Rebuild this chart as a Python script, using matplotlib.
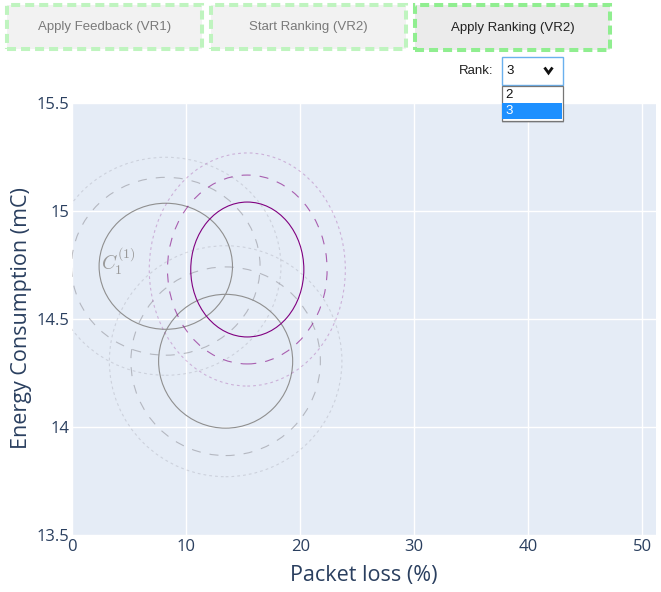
import matplotlib
matplotlib.use("Agg")
import matplotlib.pyplot as plt
from matplotlib.patches import Ellipse, Rectangle
from matplotlib.lines import Line2D

plt.rcParams['lines.scale_dashes'] = False
plt.rcParams['mathtext.fontset'] = 'cm'

# ---- data ----
center_x = [8.2, 13.45, 15.35]
center_y = [14.745, 14.305, 14.73]
rx_solid = [5.85, 5.88, 4.96]
ry_solid = [0.292, 0.310, 0.3125]
rx_dashed = [8.27, 8.31, 7.0]
ry_dashed = [0.412, 0.437, 0.4375]
rx_dotted = [10.1, 10.2, 8.6]
ry_dotted = [0.505, 0.535, 0.54]
highlight = [False, False, True]
label_text = r'$C_1^{(1)}$'
label_pos = (4.0, 14.77)

x_ticks = [0, 10, 20, 30, 40, 50]
y_ticks = [13.5, 14, 14.5, 15, 15.5]
y_tick_labels = ['13.5', '14', '14.5', '15', '15.5']
buttons = ['Apply Feedback (VR1)', 'Start Ranking (VR2)', 'Apply Ranking (VR2)']
rank_options = ['2', '3']
rank_selected = '3'

W, H = 661, 592
fig = plt.figure(figsize=(W / 100, H / 100), dpi=100)
fig.patch.set_facecolor('white')

def fx(px):
    return px / W

def fy(py):
    return 1 - py / H

ax_l, ax_r, ax_t, ax_b = 72.3, 656, 103.3, 535
ax = fig.add_axes([fx(ax_l), fy(ax_b), (ax_r - ax_l) / W, (ax_b - ax_t) / H])
ax.set_facecolor('#e5ecf6')
ax.set_xlim(0, 51.2)
ax.set_ylim(13.5, 15.5)
for s in ax.spines.values():
    s.set_visible(False)
ax.set_xticks(x_ticks)
ax.set_yticks(y_ticks)
ax.set_yticklabels(y_tick_labels)
ax.grid(True, color='white', linewidth=1.0)
ax.set_axisbelow(True)
ax.tick_params(length=0, labelsize=12, labelcolor='#2a3f5f')
ax.tick_params(axis='y', pad=2)
ax.tick_params(axis='x', pad=3)
for lab in ax.get_xticklabels() + ax.get_yticklabels():
    lab.set_fontfamily('Open Sans')

dash = (0, (6.5, 6.5))
dot = (0, (2.0, 2.2))
for i in range(len(center_x)):
    if highlight[i]:
        cs, cd, co = '#800080', (0.5, 0.0, 0.5, 0.6), (0.5, 0.0, 0.5, 0.25)
    else:
        cs, cd, co = '#8f8f8f', (0.55, 0.55, 0.58, 0.55), (0.6, 0.6, 0.65, 0.32)
    ax.add_patch(Ellipse((center_x[i], center_y[i]), 2 * rx_dotted[i], 2 * ry_dotted[i],
                         fill=False, edgecolor=co, lw=0.8, linestyle=dot))
    ax.add_patch(Ellipse((center_x[i], center_y[i]), 2 * rx_dashed[i], 2 * ry_dashed[i],
                         fill=False, edgecolor=cd, lw=0.8, linestyle=dash))
    ax.add_patch(Ellipse((center_x[i], center_y[i]), 2 * rx_solid[i], 2 * ry_solid[i],
                         fill=False, edgecolor=cs, lw=0.8))

ax.text(label_pos[0], label_pos[1], label_text, color='#9a9a9a', fontsize=14,
        ha='center', va='center')

fig.text(fx(364), fy(576), 'Packet loss (%)', fontsize=15.5, color='#2a3f5f',
         family='Open Sans', ha='center', va='center')
fig.text(fx(22), fy(318), 'Energy Consumption (mC)', fontsize=15.5, color='#2a3f5f',
         family='Open Sans', ha='center', va='center', rotation=90)

# ---- buttons ----
btn_boxes = [(5, 3, 204, 51), (209, 3, 408, 51), (413, 3, 612, 52)]
btn_fill = ['#f2f2f2', '#f2f2f2', '#ebebeb']
btn_edge = ['#bff4bf', '#bff4bf', '#90ee90']
btn_txt = ['#7a7a7a', '#7a7a7a', '#222222']
for (x0, y0, x1, y1), t, fc, ec, tc in zip(btn_boxes, buttons, btn_fill, btn_edge, btn_txt):
    fig.patches.append(Rectangle((fx(x0 + 2), fy(y1 - 2)), (x1 - x0 - 4) / W, (y1 - y0 - 4) / H,
                                 transform=fig.transFigure, facecolor=fc, edgecolor=ec,
                                 lw=2.9, linestyle=(0, (6.5, 3.6)), zorder=3))
    fig.text(fx((x0 + x1) / 2), fy((y0 + y1) / 2), t, fontsize=9.5, color=tc,
             family='Liberation Sans', ha='center', va='center', zorder=4)

# ---- rank dropdown ----
fig.text(fx(476), fy(71), 'Rank:', fontsize=9.5, color='#222222', family='Liberation Sans',
         ha='center', va='center', zorder=4)
fig.patches.append(Rectangle((fx(501.5), fy(85)), 61 / W, 28.5 / H, transform=fig.transFigure,
                             facecolor='white', edgecolor='#6ab0ee', lw=1.0, zorder=3))
fig.text(fx(510), fy(71), rank_selected, fontsize=9.5, color='#111111', family='Liberation Sans',
         ha='center', va='center', zorder=4)
fig.add_artist(Line2D([fx(544.5), fx(548.5), fx(552.5)], [fy(67.5), fy(73), fy(67.5)],
                      transform=fig.transFigure, color='#111111', lw=2.0, zorder=4,
                      solid_capstyle='butt', solid_joinstyle='miter'))
# shadow
fig.patches.append(Rectangle((fx(502), fy(123)), 62 / W, 36 / H, transform=fig.transFigure,
                             facecolor=(0, 0, 0, 0.12), edgecolor='none', zorder=5))
fig.patches.append(Rectangle((fx(501.5), fy(121)), 61 / W, 35 / H, transform=fig.transFigure,
                             facecolor='white', edgecolor='#767676', lw=0.9, zorder=6))
fig.patches.append(Rectangle((fx(502), fy(119)), 60 / W, 15.5 / H, transform=fig.transFigure,
                             facecolor='#1e90ff', edgecolor='none', zorder=7))
fig.text(fx(505), fy(94.5), rank_options[0], fontsize=9.5, color='#111111', family='Liberation Sans',
         ha='left', va='center', zorder=8)
fig.text(fx(505), fy(111), rank_options[1], fontsize=9.5, color='white', family='Liberation Sans',
         ha='left', va='center', zorder=8)

fig.savefig('out.png', dpi=100)
